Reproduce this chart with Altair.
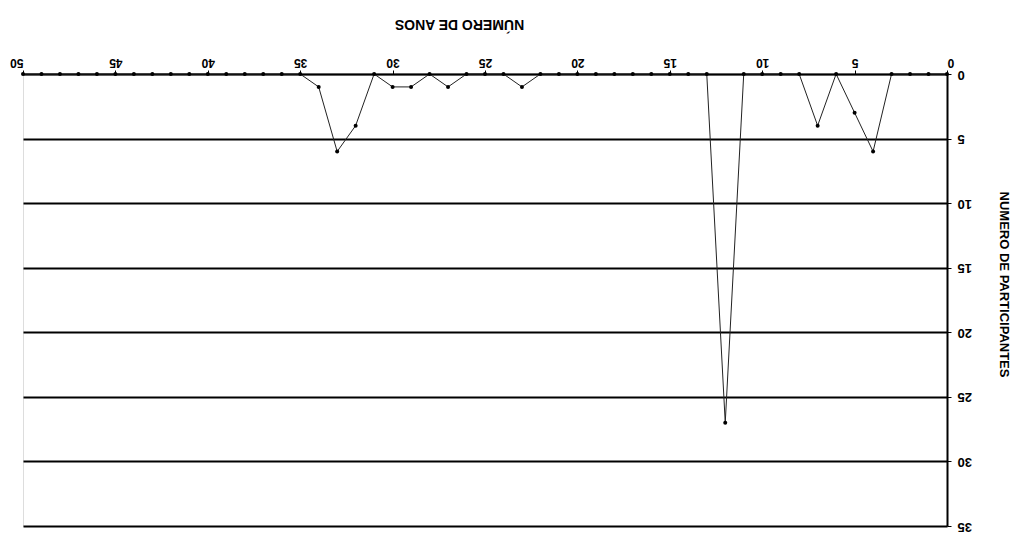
import altair as alt
import pandas as pd

years = list(range(0, 51))
participants = [0, 0, 0, 0, 6, 3, 0, 4, 0, 0,
                0, 0, 27, 0, 0, 0, 0, 0, 0, 0,
                0, 0, 0, 1, 0, 0, 0, 1, 0, 1,
                1, 0, 4, 6, 1, 0, 0, 0, 0, 0,
                0, 0, 0, 0, 0, 0, 0, 0, 0, 0,
                0]
x_ticks = [0, 5, 10, 15, 20, 25, 30, 35, 40, 45, 50]
y_ticks = [0, 5, 10, 15, 20, 25, 30, 35]

df = pd.DataFrame({"anos": years, "part": participants})

FONT = "Liberation Sans"

xs = alt.X("anos:Q",
           scale=alt.Scale(domain=[0, 50], reverse=True, nice=False, zero=False),
           axis=alt.Axis(orient="top", values=x_ticks, title="NÚMERO DE ANOS",
                         labelAngle=180, titleAngle=180, grid=False,
                         labelFont=FONT, labelFontSize=12, labelFontWeight="bold",
                         titleFont=FONT, titleFontSize=14, titleFontWeight="bold",
                         labelColor="black", titleColor="black",
                         domainColor="black", domainWidth=1.5, tickColor="black",
                         tickSize=4, labelPadding=3, titlePadding=40, titleX=436))
ys = alt.Y("part:Q",
           scale=alt.Scale(domain=[0, 35], reverse=True, nice=False),
           axis=alt.Axis(orient="right", values=y_ticks, title="NUMERO DE PARTICIPANTES",
                         labelAngle=180, titleAngle=90, grid=True,
                         gridColor="black", gridWidth=2, gridOpacity=1,
                         labelFont=FONT, labelFontSize=13, labelFontWeight="bold",
                         titleFont=FONT, titleFontSize=13, titleFontWeight="bold",
                         labelColor="black", titleColor="black",
                         domainColor="black", domainWidth=2, tickColor="black",
                         tickSize=4, labelPadding=6, titlePadding=25, titleY=210))

line = alt.Chart(df).mark_line(color="#222222", strokeWidth=1).encode(x=xs, y=ys)
pts = alt.Chart(df).mark_point(filled=True, color="black", size=16, opacity=1).encode(x="anos:Q", y="part:Q")

chart = alt.layer(line, pts).properties(
    width=924, height=452,
    autosize=alt.AutoSizeParams(type="none"),
    padding={"left": 15, "top": 66, "right": 67, "bottom": 10},
).configure_view(stroke="black", strokeWidth=1.5).configure(background="white")

chart.save("out.html", embed_options={"renderer": "svg", "actions": False})
